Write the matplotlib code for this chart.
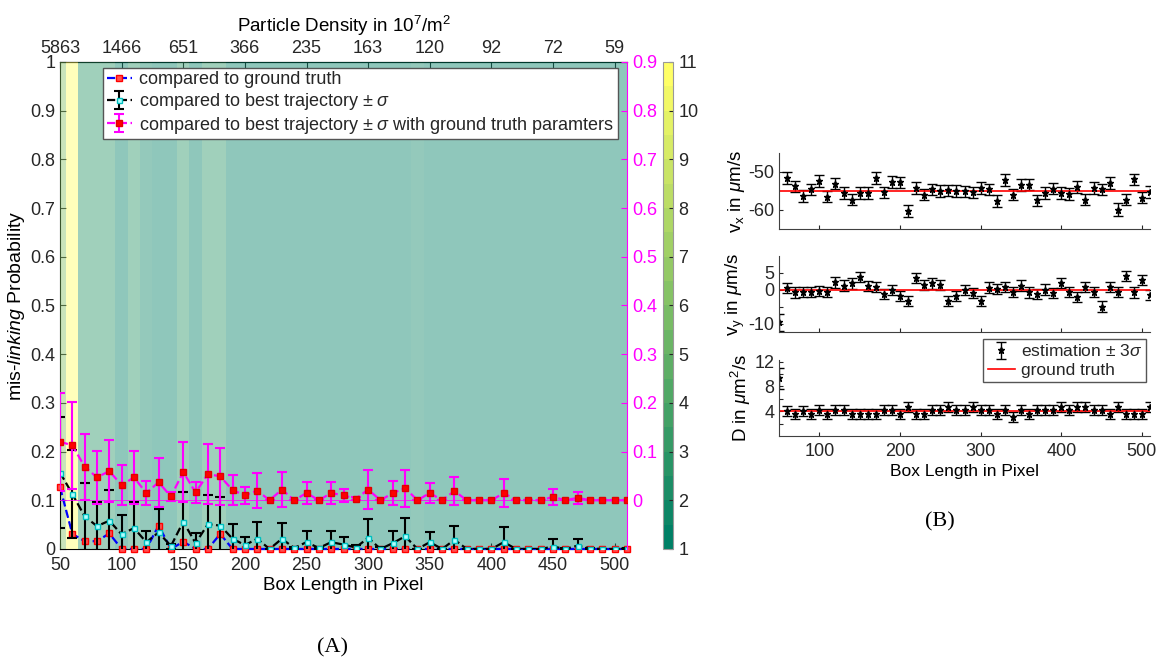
import numpy as np
import matplotlib.pyplot as plt
from matplotlib import cm, colors

plt.rcParams['font.family'] = ['Liberation Sans', 'DejaVu Sans']
plt.rcParams['mathtext.fontset'] = 'custom'
plt.rcParams['mathtext.rm'] = 'Liberation Sans'
plt.rcParams['mathtext.it'] = 'Liberation Sans:italic'
plt.rcParams['mathtext.bf'] = 'Liberation Sans:bold'
plt.rcParams['xtick.direction'] = 'in'
plt.rcParams['ytick.direction'] = 'in'
plt.rcParams['text.color'] = '#262626'
plt.rcParams['xtick.color'] = '#262626'
plt.rcParams['ytick.color'] = '#262626'

# --- data (A) ---
box_len = list(range(50, 511, 10))
density_ticks = [50, 100, 150, 200, 250, 300, 350, 400, 450, 500]
density_labels = ['5863', '1466', '651', '366', '235', '163', '120', '92', '72', '59']

# background level per box length column
bg_level = [6, 11, 2.5, 2.5, 2.5, 1, 2.5, 1.5, 1, 1, 2.5, 1, 2.5, 2.5,
            1, 1, 1, 1, 1, 1, 1, 1, 1, 1, 1, 1, 1, 1, 1,
            1.5,
            1, 1, 1, 1, 1, 1, 1, 1, 1, 1, 1, 1, 1, 1, 1, 1, 1]

# compared to ground truth
gt_mis = [0.127, 0.031, 0.016, 0.016, 0.032, 0, 0, 0, 0.048, 0, 0.015, 0, 0, 0.031,
          0, 0, 0, 0, 0, 0, 0, 0, 0, 0, 0, 0, 0, 0, 0, 0, 0, 0, 0,
          0, 0, 0, 0, 0, 0, 0, 0, 0, 0, 0, 0, 0, 0]

# compared to best trajectory
bt_mis = [0.157, 0.113, 0.067, 0.047, 0.058, 0.030, 0.043, 0.014, 0.034, 0.006,
          0.056, 0.012, 0.051, 0.048, 0.021, 0.008, 0.021, 0.0, 0.021, 0.002,
          0.014, 0.002, 0.014, 0.009, 0.003, 0.023, 0.0, 0.012, 0.026, 0.0,
          0.014, 0.0, 0.019, 0.0, 0.0, 0.0, 0.014, 0.0, 0.0, 0.0,
          0.005, 0.0, 0.007, 0.001, 0.0, 0.0, 0.001]
bt_err = [0.113, 0.091, 0.069, 0.049, 0.063, 0.040, 0.053, 0.023, 0.048, 0.005,
          0.062, 0.020, 0.060, 0.059, 0.031, 0.016, 0.035, 0.0, 0.033, 0.003,
          0.022, 0.002, 0.022, 0.015, 0.005, 0.039, 0.004, 0.024, 0.038, 0.0,
          0.021, 0.0, 0.029, 0.0, 0.0, 0.0, 0.031, 0.0, 0.0, 0.0,
          0.016, 0.002, 0.014, 0.002, 0.0, 0.0, 0.002]

# compared to best trajectory with ground truth parameters (right axis)
gp_mis = [0.120, 0.113, 0.069, 0.047, 0.060, 0.031, 0.047, 0.015, 0.037, 0.008,
          0.058, 0.016, 0.054, 0.049, 0.021, 0.010, 0.020, 0.0, 0.022, 0.0,
          0.015, 0.0, 0.015, 0.010, 0.003, 0.022, 0.0, 0.015, 0.025, 0.0,
          0.015, 0.0, 0.019, 0.0, 0.0, 0.0, 0.015, 0.0, 0.0, 0.0,
          0.007, 0.0, 0.005, 0.0, 0.0, 0.0, 0.0]
gp_err = [0.101, 0.089, 0.068, 0.054, 0.064, 0.041, 0.055, 0.024, 0.050, 0.010,
          0.061, 0.022, 0.061, 0.059, 0.031, 0.017, 0.036, 0.0, 0.036, 0.0,
          0.023, 0.0, 0.023, 0.014, 0.003, 0.040, 0.0, 0.025, 0.038, 0.0,
          0.021, 0.0, 0.029, 0.0, 0.0, 0.0, 0.029, 0.0, 0.0, 0.0,
          0.016, 0.0, 0.013, 0.0, 0.0, 0.0, 0.0]

# --- data (B) ---
vx = [np.nan, -51.6, -53.8, -56.4, -54.6, -52.4, -56.5, -53.1, -55.5, -57.3,
      -55.5, -55.5, -51.6, -55.4, -52.7, -52.8, -60.2, -54.2, -56.0, -54.6,
      -55.0, -54.9, -55.0, -55.1, -55.4, -54.2, -54.6, -57.6, -52.2, -56.0,
      -53.5, -53.4, -57.5, -55.5, -54.4, -55.6, -55.8, -54.0, -57.3, -54.2,
      -54.6, -52.9, -59.9, -57.3, -52.0, -56.8, -55.3]
vx_err = [1.5, 1.6, 1.4, 1.5, 1.5, 1.5, 1.4, 1.5, 1.5, 1.4,
          1.5, 1.5, 1.5, 1.5, 1.5, 1.5, 1.6, 1.5, 1.5, 1.5,
          1.5, 1.5, 1.5, 1.5, 1.5, 1.5, 1.5, 1.5, 1.5, 1.4,
          1.5, 1.5, 1.5, 1.5, 1.5, 1.5, 1.5, 1.5, 1.5, 1.5,
          1.5, 1.5, 1.6, 1.5, 1.5, 1.5, 1.5]
vx_true = -55

vy = [-9.6, 0.5, -0.75, -0.6, -0.7, -0.2, -0.6, 2.2, 1.3, 1.9,
      3.7, 1.2, 0.75, -1.2, 0.0, -1.9, -3.3, 3.5, 1.4, 1.9,
      1.4, -3.3, -1.7, 0.0, -0.9, -3.3, 0.7, 0.2, 0.9, -0.6,
      1.3, -0.75, -1.1, 0.1, -0.9, 2.0, -0.7, -2.1, 0.75, -0.6,
      -4.9, 0.75, -0.6, 4.0, -0.75, 3.0, -1.6]
vy_err = [2.5, 1.5, 1.5, 1.5, 1.5, 1.5, 1.5, 1.5, 1.5, 1.5,
          1.5, 1.5, 1.5, 1.5, 1.5, 1.5, 1.5, 1.5, 1.5, 1.5,
          1.5, 1.5, 1.5, 1.5, 1.5, 1.5, 1.5, 1.5, 1.5, 1.5,
          1.5, 1.5, 1.5, 1.5, 1.5, 1.5, 1.5, 1.5, 1.5, 1.5,
          1.5, 1.5, 1.5, 1.5, 1.5, 1.5, 1.5]
vy_true = 0

D = [9.3, 4.0, 3.5, 4.0, 3.5, 4.15, 3.6, 4.15, 4.15, 3.6,
     3.6, 3.6, 3.6, 4.15, 4.15, 3.5, 4.7, 3.6, 3.6, 4.15,
     4.15, 4.7, 4.15, 4.15, 4.7, 4.15, 4.15, 3.6, 4.15, 3.0,
     4.15, 3.6, 4.15, 4.15, 4.15, 4.7, 4.15, 4.7, 4.7, 4.15,
     4.15, 3.6, 4.7, 3.6, 3.6, 3.6, 4.7]
D_err = [1.7, 0.8, 0.8, 0.8, 0.8, 0.8, 0.8, 0.8, 0.8, 0.8,
         0.8, 0.8, 0.8, 0.8, 0.8, 0.8, 0.8, 0.8, 0.8, 0.8,
         0.8, 0.8, 0.8, 0.8, 0.8, 0.8, 0.8, 0.8, 0.8, 0.8,
         0.8, 0.8, 0.8, 0.8, 0.8, 0.8, 0.8, 0.8, 0.8, 0.8,
         0.8, 0.8, 0.8, 0.8, 0.8, 0.8, 0.8]
D_true = 4

fig = plt.figure(figsize=(11.56, 6.6), dpi=100)

# ---------- panel A ----------
ax1 = fig.add_axes([0.0519, 0.1682, 0.4905, 0.738])
cmap = plt.get_cmap('summer', 20)
norm = colors.Normalize(vmin=1, vmax=11)
xs = np.array(box_len)
edges = np.append(xs - 5, xs[-1] + 5)
ax1.pcolormesh(edges, [0, 1], np.array([bg_level]), cmap=cmap, norm=norm,
               alpha=0.44, zorder=3, edgecolors='none')

h1, = ax1.plot(box_len, gt_mis, '--', color='b', lw=1.6, marker='s', ms=3.8,
               mfc='#ff5050', mec='r', zorder=4, clip_on=False)
h2 = ax1.errorbar(box_len, bt_mis, yerr=bt_err, fmt='--', color='k', lw=1.6,
                  marker='s', ms=3.6, mfc='#b0ffff', mec='c', ecolor='k',
                  elinewidth=1.5, capsize=3.5, capthick=1.5, zorder=5)
ax1.set_xlim(50, 510)
ax1.set_ylim(0, 1)
ax1.set_xticks(density_ticks)
ax1.set_yticks(np.linspace(0, 1, 11))
ax1.set_yticklabels(['0', '0.1', '0.2', '0.3', '0.4', '0.5', '0.6', '0.7', '0.8', '0.9', '1'])
ax1.tick_params(labelsize=13, length=4)
ax1.tick_params(axis='x', pad=6)
ax1.spines['right'].set_visible(False)
ax1.set_xlabel('Box Length in Pixel', fontsize=13.5, labelpad=2)
ax1.set_ylabel('mis-$\\mathit{linking}$ Probability', fontsize=14, labelpad=2)

top = ax1.secondary_xaxis('top')
top.set_xticks(density_ticks, labels=density_labels)
top.tick_params(labelsize=13, direction='in', length=4)
top.set_xlabel('Particle Density in 10$^7$/m$^2$', fontsize=13.5, labelpad=6)

ax2 = ax1.twinx()
ax2.set_ylim(-0.1, 0.9)
ax2.set_yticks(np.linspace(0, 0.9, 10))
ax2.set_yticklabels(['0', '0.1', '0.2', '0.3', '0.4', '0.5', '0.6', '0.7', '0.8', '0.9'])
for s in ['left', 'top', 'bottom']:
    ax2.spines[s].set_visible(False)
ax2.spines['right'].set_color('#ff00ff')
ax2.tick_params(axis='y', colors='#ff00ff', labelsize=13, length=4)
ax2.axhline(0, color='#ff00ff', lw=0.7, alpha=0.8, zorder=2)
h3 = ax2.errorbar(box_len, gp_mis, yerr=gp_err, fmt='--', color='#ff00ff', lw=1.6,
                  marker='s', ms=4.8, mfc='r', mec='#e00000', ecolor='#ff00ff',
                  elinewidth=1.5, capsize=3.5, capthick=1.5, zorder=5)

ax2.legend([h1, h2, h3],
           ['compared to ground truth',
            'compared to best trajectory $\\pm\\ \\sigma$',
            'compared to best trajectory $\\pm\\ \\sigma$ with ground truth paramters'],
           loc='upper left', bbox_to_anchor=(0.0758, 0.988), borderaxespad=0,
           fontsize=13, fancybox=False, framealpha=1, edgecolor='#555555',
           handlelength=1.4, handletextpad=0.4, borderpad=0.2, labelspacing=0.15)

cax = fig.add_axes([0.5733, 0.1682, 0.0092, 0.738])
sm = cm.ScalarMappable(norm=norm, cmap=cmap)
cb = fig.colorbar(sm, cax=cax, ticks=list(range(1, 12)))
cb.ax.tick_params(labelsize=13, direction='in', length=3)
cb.outline.set_edgecolor('#999999')
cb.outline.set_linewidth(0.8)

fig.text(0.288, 0.018, '(A)', family='Liberation Serif', fontsize=16,
         ha='center', va='center', color='k')

# ---------- panel B ----------
panels = [
    (0.653, vx, vx_err, vx_true, 'v$_\\mathrm{x}$ in $\\mu$m/s', (-65, -45), [-60, -50], ['-60', '-50']),
    (0.4965, vy, vy_err, vy_true, 'v$_\\mathrm{y}$ in $\\mu$m/s', (-12.5, 10), [-10, -5, 0, 5], ['-10', '', '0', '5']),
    (0.3394, D, D_err, D_true, 'D in $\\mu$m$^2$/s', (0, 12.3), [2, 4, 6, 8, 10, 12], ['', '4', '', '8', '', '12']),
]
axes_b = []
for bottom, vals, errs, truth, label, ylim, yt, ytl in panels:
    ax = fig.add_axes([0.6739, bottom, 0.3209, 0.1156])
    eb = ax.errorbar(box_len, vals, yerr=errs, fmt='*', color='k', ms=5,
                     elinewidth=1, capsize=3.5, capthick=1)
    ln = ax.axhline(truth, color='r', lw=1.2)
    ax.set_xlim(50, 510)
    ax.set_ylim(*ylim)
    ax.set_xticks([100, 200, 300, 400, 500])
    ax.set_yticks(yt)
    ax.set_yticklabels(ytl)
    ax.tick_params(labelsize=13, length=3)
    ax.spines['top'].set_visible(False)
    ax.spines['right'].set_visible(False)
    for s in ['left', 'bottom']:
        ax.spines[s].set_color('#404040')
        ax.spines[s].set_linewidth(0.8)
    ax.set_ylabel(label, fontsize=13.5, labelpad=1)
    axes_b.append((ax, eb, ln))

axes_b[0][0].tick_params(labelbottom=False)
axes_b[1][0].tick_params(labelbottom=False)
axD, ebD, lnD = axes_b[2]
axD.tick_params(axis='x', pad=5)
axD.set_xlabel('Box Length in Pixel', fontsize=12.5, labelpad=3)
axD.legend([ebD, lnD], ['estimation $\\pm$ 3$\\sigma$', 'ground truth'],
           loc='upper right', bbox_to_anchor=(0.9913, 0.4864),
           bbox_transform=fig.transFigure, borderaxespad=0, fontsize=12.5,
           fancybox=False, framealpha=1, edgecolor='#555555',
           handlelength=1.6, handletextpad=0.3, borderpad=0.25, labelspacing=0.2)

fig.text(0.813, 0.209, '(B)', family='Liberation Serif', fontsize=16,
         ha='center', va='center', color='k')

plt.savefig('out.png', dpi=100)
